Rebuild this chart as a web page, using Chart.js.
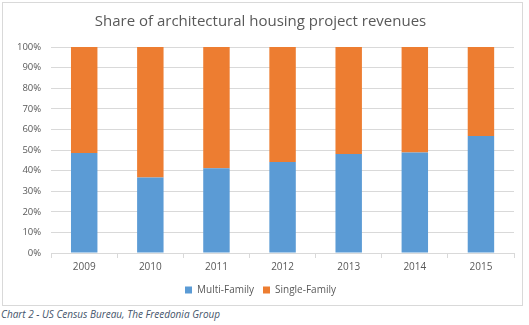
<!DOCTYPE html>
<html>
<head>
<meta charset="utf-8">
<script src="https://cdn.jsdelivr.net/npm/chart.js@4"></script>
<style>
    body { margin: 0; background: #fff; width: 529px; height: 325px; position: relative; overflow: hidden; }
    #frame { position: absolute; left: 2px; top: 2px; width: 519px; height: 302px; border: 1px solid #D9D9D9; }
    #caption { position: absolute; left: 1px; top: 307px; font: italic 10px "Open Sans", sans-serif; color: #44546A; }
</style>
</head>
<body>
<div id="frame"><canvas id="chart" width="519" height="302"></canvas></div>
<div id="caption">Chart 2 - US Census Bureau, The Freedonia Group</div>
<script>
// Datos del gráfico
const anios = ['2009', '2010', '2011', '2012', '2013', '2014', '2015'];
const multiFamily = [48.5, 36.6, 41.2, 44.2, 48.1, 48.8, 56.8];
const singleFamily = [51.5, 63.4, 58.8, 55.8, 51.9, 51.2, 43.2];
const ticksY = ['0%', '10%', '20%', '30%', '40%', '50%', '60%', '70%', '80%', '90%', '100%'];

const gris = '#595959';
const fuente = '"Open Sans", sans-serif';

new Chart(document.getElementById('chart'), {
    type: 'bar',
    data: {
        labels: anios,
        datasets: [
            { label: 'Multi-Family', data: multiFamily, backgroundColor: '#5B9BD5', categoryPercentage: 0.8, barPercentage: 0.5 },
            { label: 'Single-Family', data: singleFamily, backgroundColor: '#ED7D31', categoryPercentage: 0.8, barPercentage: 0.5 }
        ]
    },
    options: {
        responsive: false,
        animation: false,
        layout: { padding: { left: 4, right: 8, top: 0, bottom: 0 } },
        plugins: {
            title: {
                display: true,
                text: 'Share of architectural housing project revenues',
                color: gris,
                font: { family: fuente, size: 15, weight: 'normal' },
                padding: { top: 10, bottom: 16 }
            },
            legend: {
                position: 'bottom',
                labels: {
                    color: gris,
                    font: { family: fuente, size: 10 },
                    boxWidth: 7,
                    boxHeight: 7,
                    padding: 9
                }
            },
            tooltip: { enabled: false }
        },
        scales: {
            x: {
                stacked: true,
                grid: { drawOnChartArea: false, drawTicks: true, tickLength: 5, color: '#D9D9D9', offset: true },
                border: { color: '#D9D9D9' },
                ticks: { color: gris, font: { family: fuente, size: 10 }, padding: 3 }
            },
            y: {
                stacked: true,
                min: 0,
                max: 100,
                grid: { color: '#D9D9D9', drawTicks: false },
                border: { display: false },
                ticks: {
                    stepSize: 10,
                    color: gris,
                    font: { family: fuente, size: 9.5 },
                    padding: 10,
                    callback: (v, i) => ticksY[i]
                }
            }
        }
    }
});
</script>
</body>
</html>
